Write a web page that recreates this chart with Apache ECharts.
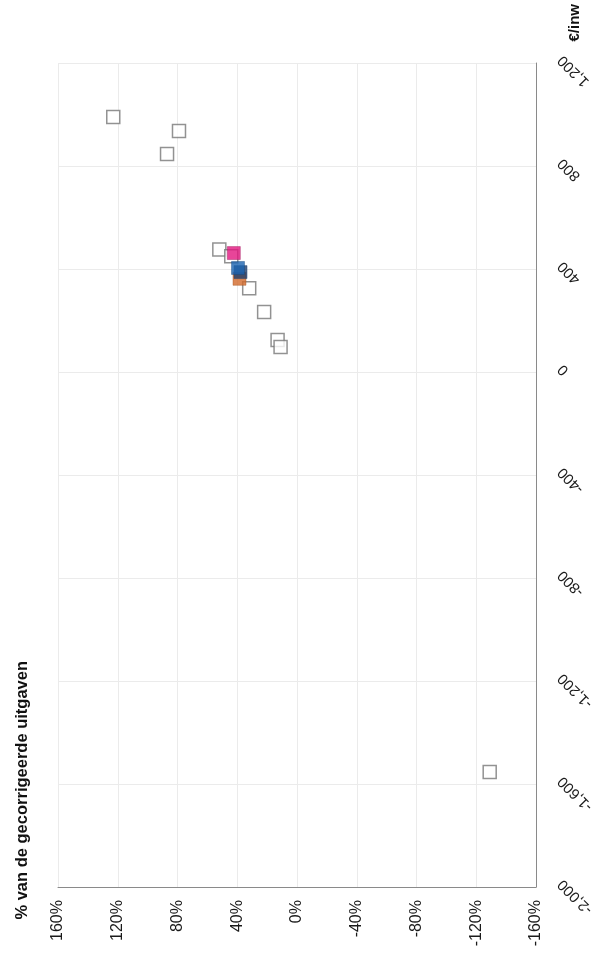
<!DOCTYPE html>
<html>
<head>
<meta charset="utf-8">
<script src="https://cdn.jsdelivr.net/npm/echarts@6/dist/echarts.min.js"></script>
<style>
html,body{margin:0;padding:0;background:#fff;}
#c{width:593px;height:955px;}
</style>
</head>
<body>
<div id="c"></div>
<script>
// Horizontal axis: % van de gecorrigeerde uitgaven ; vertical axis: €/inw
var pctTicks = [160, 120, 80, 40, 0, -40, -80, -120, -160];
var euroTicks = [1200, 800, 400, 0, -400, -800, -1200, -1600, -2000];

// other municipalities (open squares)
var otherPct  = [123, 79, 87, 52, 44, 32, 22, 13, 11, -129];
var otherEuro = [990, 936, 847, 476, 450, 325, 233, 124, 97, -1553];

// highlighted points
var orangePct = [38.5], orangeEuro = [362];
var navyPct = [37.8], navyEuro = [388];
var bluePct = [39.5], blueEuro = [404];
var pinkPct = [42.3], pinkEuro = [462];

function pairs(a, b) { return a.map(function (v, i) { return [v, b[i]]; }); }
function fmtThousands(v) {
  var s = Math.abs(v).toString().replace(/\B(?=(\d{3})+(?!\d))/g, ',');
  return (v < 0 ? '-' : '') + s;
}

var chart = echarts.init(document.getElementById('c'), null, {renderer: 'canvas'});
var labelFont = {fontFamily: 'Liberation Sans, Arial, sans-serif', color: '#1a1a1a'};

chart.setOption({
  animation: false,
  backgroundColor: '#fff',
  grid: {left: 58, right: 57, top: 63, bottom: 68, containLabel: false, outerBoundsMode: 'none'},
  xAxis: {
    type: 'value', min: -160, max: 160, interval: 40, inverse: true, position: 'bottom',
    axisLine: {show: true, onZero: false, lineStyle: {color: '#8a8a8a', width: 1}},
    axisTick: {show: false},
    splitLine: {show: true, lineStyle: {color: '#ebebeb', width: 1}},
    axisLabel: Object.assign({rotate: 90, margin: 13, fontSize: 16, formatter: function (v) { return v + '%'; }}, labelFont)
  },
  yAxis: {
    type: 'value', min: -2000, max: 1200, interval: 400, position: 'right',
    axisLine: {show: true, onZero: false, lineStyle: {color: '#8a8a8a', width: 1}},
    axisTick: {show: false},
    splitLine: {show: true, lineStyle: {color: '#ebebeb', width: 1}},
    axisLabel: Object.assign({rotate: 135, margin: 19, fontSize: 15, verticalAlign: 'top', formatter: fmtThousands}, labelFont)
  },
  graphic: [
    {type: 'text', left: 14, top: 661, rotation: Math.PI / 2,
      style: {text: '% van de gecorrigeerde uitgaven', font: 'bold 16.5px "Liberation Sans", Arial, sans-serif', fill: '#111'}},
    {type: 'text', left: 567, top: 4, rotation: Math.PI / 2,
      style: {text: '€/inw', font: 'bold 15px "Liberation Sans", Arial, sans-serif', fill: '#111'}}
  ],
  series: [
    {type: 'scatter', symbol: 'rect', symbolSize: 13, data: pairs(otherPct, otherEuro),
      itemStyle: {color: '#fff', borderColor: '#777', borderWidth: 1.5}},
    {type: 'scatter', symbol: 'rect', symbolSize: 13, data: pairs(orangePct, orangeEuro),
      itemStyle: {color: '#d2692a', borderColor: '#a04f1f', borderWidth: 0.5}},
    {type: 'scatter', symbol: 'rect', symbolSize: 13, data: pairs(navyPct, navyEuro),
      itemStyle: {color: '#1f3f6b', borderColor: '#1f3f6b', borderWidth: 0.5}},
    {type: 'scatter', symbol: 'rect', symbolSize: 13, data: pairs(bluePct, blueEuro),
      itemStyle: {color: '#1a63b0', borderColor: '#14467c', borderWidth: 0.5}},
    {type: 'scatter', symbol: 'rect', symbolSize: 13, data: pairs(pinkPct, pinkEuro),
      itemStyle: {color: '#e2177f', borderColor: '#9c1558', borderWidth: 0.5}}
  ]
});
</script>
</body>
</html>
